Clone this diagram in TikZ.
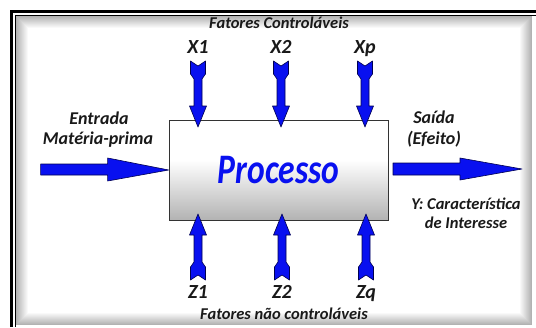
\documentclass[tikz,border=0pt]{standalone}
\usepackage{fontspec}
\setmainfont{Carlito}

\definecolor{azul}{RGB}{8,16,240}
\definecolor{contorno}{RGB}{0,0,80}

\pgfdeclareverticalshading{fundocaixa}{100bp}{color(0bp)=(black!50); color(10bp)=(black!45);
	color(55bp)=(white); color(100bp)=(white)}

\tikzset{
	rotulo/.style={font=\bfseries\itshape\fontsize{18}{20}\selectfont, text=black!90, inner sep=0pt, anchor=base},
	fator/.style={font=\bfseries\itshape\fontsize{16.5}{18}\selectfont, text=black!90, inner sep=0pt, anchor=base},
	var/.style={font=\bfseries\itshape\fontsize{20}{22}\selectfont, text=black!90, inner sep=0pt, anchor=base},
	seta/.style={fill=azul, draw=contorno, line width=0.6pt, line join=round},
	caixa/.style={draw=black!80, line width=0.7pt, minimum width=219pt, minimum height=100pt,
		shading=fundocaixa, font=\bfseries\itshape\fontsize{42}{44}\selectfont, text=azul},
	pics/flecha/.style={code={
		\draw[seta] (-7.5,0) -- (0,5) -- (7.5,0) -- (7.5,13) -- (4,18) -- (4,45) -- (8.5,45)
			-- (0,66) -- (-8.5,45) -- (-4,45) -- (-4,18) -- (-7.5,13) -- cycle;}},
}

\begin{document}
\begin{tikzpicture}[x=1pt,y=-1pt]
	\useasboundingbox (0,0) rectangle (536,327);
	\fill[white] (0,0) rectangle (536,327);
	% moldura com sombra interna
	\foreach \i in {0,...,11}{
		\pgfmathsetmacro\op{0.3*(1-\i/12)}
		\draw[black, opacity=\op, line width=1pt] (16.5+\i,16.5+\i) rectangle (531-\i,324-\i);
	}
	\draw[black, line width=3pt] (11.5,327) -- (11.5,11.5) -- (536,11.5);
	\draw[black, line width=1.3pt] (15.6,327) -- (15.6,15.6) -- (536,15.6);

	\node[caixa] (proc) at (278.5,170) {\scalebox{0.8}[1]{Processo}};

	% fatores controlaveis
	\node[fator] (fc) at (279,28) {Fatores Control\'aveis};
	\node[var] (x1) at (198,53) {X1};
	\node[var] (x2) at (281,53) {X2};
	\node[var] (xp) at (365,53) {Xp};
	\foreach \n in {x1,x2,xp}
		\pic at (\n |- 0,61) {flecha};

	% fatores nao controlaveis
	\node[fator] (fnc) at (284,319) {Fatores n\~ao control\'aveis};
	\node[var] (z1) at (198,298) {Z1};
	\node[var] (z2) at (282,298) {Z2};
	\node[var] (zq) at (366,298) {Zq};
	\foreach \n in {z1,z2,zq}
		\pic[rotate=180] at (\n |- 0,280) {flecha};

	% entrada
	\node[rotulo] (ent) at (99,124) {Entrada};
	\node[rotulo] (mp) at (98,144) {Mat\'eria-prima};
	\draw[seta] (proc.west) -- ++(-61,-12) -- ++(0,6) -- ++(-67,0) -- ++(0,11) -- ++(67,0) -- ++(0,6) -- cycle;

	% saida
	\node[rotulo] (sai) at (434,123) {Sa\'ida};
	\node[rotulo] (efe) at (434,144) {(Efeito)};
	\coordinate (ponta) at (522,169);
	\draw[seta] (ponta) -- ++(-62,-11) -- ++(0,5) -- ++(-67,0) -- ++(0,12) -- ++(67,0) -- ++(0,5) -- cycle;
	\node[fator] (y) at (466,209) {Y: Caracter\'istica};
	\node[fator] (int) at (466,228) {de Interesse};
\end{tikzpicture}
\end{document}
